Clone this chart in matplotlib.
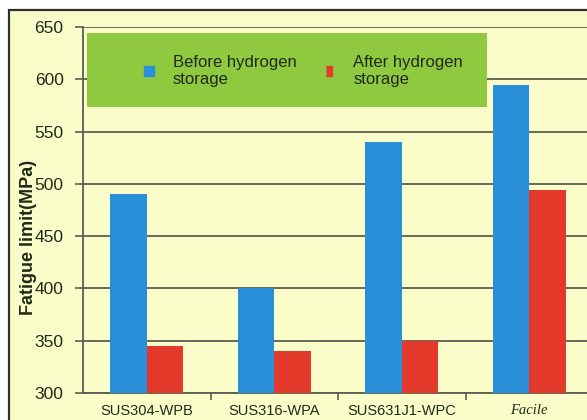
import matplotlib
matplotlib.use('Agg')
import matplotlib.pyplot as plt
from matplotlib.patches import Rectangle
from matplotlib.lines import Line2D
import numpy as np

# --- Data ---
categories = ['SUS304-WPB', 'SUS316-WPA', 'SUS631J1-WPC', 'Facile']
before_h2 = [490, 400, 540, 595]
after_h2 = [345, 340, 350, 494]
series_labels = ['Before hydrogen\nstorage', 'After hydrogen\nstorage']
y_ticks = [300, 350, 400, 450, 500, 550, 600, 650]

# --- Colours ---
bg_yellow = '#fafdc9'
legend_green = '#8fc93f'
blue = '#2a8fd9'
red = '#e2392b'
grid_col = '#5a5f50'
text_col = '#1f2a18'

plt.rcParams['font.family'] = ['Liberation Sans', 'DejaVu Sans']

fig = plt.figure(figsize=(5.87, 4.2), dpi=100)
fig.patch.set_facecolor('white')

# outer frame of the scanned figure
frame = Rectangle((9 / 587, -0.1), 1.2, 1 - 10 / 420 + 0.1, transform=fig.transFigure,
                  facecolor=bg_yellow, edgecolor='#2e3329', linewidth=1.6, zorder=-5)
fig.patches.append(frame)

ax = fig.add_axes([83 / 587, 1 - 393 / 420, 510 / 587, 366 / 420])
ax.set_facecolor('none')

x = np.arange(len(categories))
w = 0.287
ax.bar(x - w / 2, before_h2, width=w, color=blue, zorder=3, label=series_labels[0])
ax.bar(x + w / 2, after_h2, width=w, color=red, zorder=3, label=series_labels[1])

ax.set_ylim(300, 650)
ax.set_xlim(-0.5, len(categories) - 0.5)
ax.set_yticks(y_ticks)
ax.tick_params(axis='y', labelsize=12.5, colors=grid_col, labelcolor=text_col,
               length=6, width=1.2, pad=8)

# category labels at centres, separator ticks between groups
ax.set_xticks(x)
ax.set_xticklabels(categories)
ax.tick_params(axis='x', which='major', length=0, labelsize=10.5, labelcolor=text_col, pad=8)
ax.set_xticks(x[:-1] + 0.5, minor=True)
ax.tick_params(axis='x', which='minor', length=5, width=1.2, colors=grid_col)
facile = ax.get_xticklabels()[-1]
facile.set_fontfamily(['Liberation Serif', 'DejaVu Serif'])
facile.set_fontstyle('italic')
facile.set_fontsize(10.5)

ax.yaxis.grid(True, color=grid_col, linewidth=1.3, zorder=1)
ax.set_axisbelow(True)
for side in ['top', 'right']:
    ax.spines[side].set_visible(False)
for side in ['left', 'bottom']:
    ax.spines[side].set_color(grid_col)
    ax.spines[side].set_linewidth(1.3)

ax.set_ylabel('Fatigue limit(MPa)', fontsize=13, fontweight='bold', color=text_col)
ax.yaxis.set_label_coords((37 - 83) / 510, (393 - 237) / 366)

# green legend panel
panel = Rectangle(((87 - 83) / 510, (393 - 107) / 366), 400 / 510, 74 / 366,
                  transform=ax.transAxes, facecolor=legend_green, edgecolor='none', zorder=4)
ax.add_patch(panel)

handles = [
    Line2D([], [], linestyle='none', marker='s', markersize=7, color=blue),
    Line2D([], [], linestyle='none', color=red, markersize=7,
           marker=[(-0.3, -0.5), (0.3, -0.5), (0.3, 0.5), (-0.3, 0.5)]),
]
leg = ax.legend(handles, series_labels, ncol=2, frameon=False, loc='center left',
                bbox_to_anchor=((143 - 83) / 510, (393 - 71) / 366),
                borderpad=0, borderaxespad=0, handlelength=0.7, handletextpad=1.1,
                columnspacing=1.6, fontsize=12, labelcolor=text_col)
leg.set_zorder(5)

fig.savefig('out.png', dpi=100, facecolor=fig.get_facecolor())
